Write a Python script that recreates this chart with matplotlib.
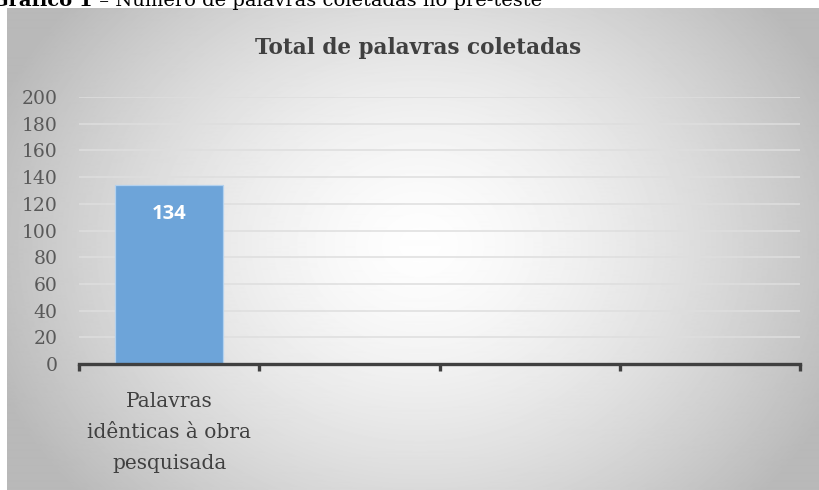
import numpy as np
import matplotlib
matplotlib.use("Agg")
import matplotlib.pyplot as plt
from matplotlib.ticker import FixedLocator

# ---- data ----
categories = ["Palavras\nidênticas à obra\npesquisada", "", "", ""]
values = [134, None, None, None]
yticks = [0, 20, 40, 60, 80, 100, 120, 140, 160, 180, 200]
title = "Total de palavras coletadas"
caption_bold = "Gráfico 1"
caption_rest = " – Número de palavras coletadas no pré-teste"

W, H = 819, 490
fig = plt.figure(figsize=(W / 100, H / 100), dpi=100)
fig.patch.set_facecolor("white")

# background chart area with radial gradient
bx0, by0, bx1, by1 = 7, 8, 819, 490  # pixel box (top-left origin)
bg = fig.add_axes([bx0 / W, 1 - by1 / H, (bx1 - bx0) / W, (by1 - by0) / H])
bg.set_axis_off()
nx, ny = bx1 - bx0, by1 - by0
xx, yy = np.meshgrid(np.arange(nx), np.arange(ny))
cx, cy = 420 - bx0, 245 - by0
r = np.sqrt(((xx - cx) / 430.0) ** 2 + ((yy - cy) / 360.0) ** 2)
r = np.clip(r, 0, 1.05)
v = 0.995 - 0.25 * r ** 1.5
bg.imshow(v, cmap="gray", vmin=0, vmax=1, aspect="auto",
          extent=[0, nx, ny, 0], interpolation="bilinear")
bg.set_xlim(0, nx)
bg.set_ylim(ny, 0)

# main axes
ax = fig.add_axes([79 / W, 126 / H, (800 - 79) / W, (393 - 126) / H])
ax.patch.set_alpha(0)
xs = np.arange(len(categories))
bar_x = [x for x, v in zip(xs, values) if v is not None]
bar_v = [v for v in values if v is not None]
bars = ax.bar(bar_x, bar_v, width=0.6, color="#6DA4D9",
              edgecolor="#b3d1ee", linewidth=0.9, zorder=3)
for x, v in zip(bar_x, bar_v):
    ax.text(x, v - 22, str(v), ha="center", va="center", color="white",
            fontsize=14.5, fontweight="bold", family="Open Sans", zorder=4)

ax.set_xlim(-0.5, len(categories) - 0.5)
ax.set_ylim(0, 200)
ax.set_yticks(yticks)
ax.yaxis.grid(True, color="#dedede", linewidth=1.1, zorder=0)
ax.set_axisbelow(True)
for s in ["left", "right", "top"]:
    ax.spines[s].set_visible(False)
ax.spines["bottom"].set_color("#404040")
ax.spines["bottom"].set_linewidth(2.4)
ax.spines["bottom"].set_zorder(5)

ax.set_xticks(xs)
ax.set_xticklabels(categories, fontsize=14.5, family="DejaVu Serif",
                   color="#404040", linespacing=1.8)
ax.xaxis.set_minor_locator(FixedLocator(np.arange(-0.5, len(categories), 1.0)))
ax.tick_params(axis="x", which="major", length=0, pad=20)
ax.tick_params(axis="x", which="minor", length=5, width=2.4, color="#404040",
               direction="out")
ax.tick_params(axis="y", length=0, pad=15.5, labelsize=13.5, labelcolor="#595959")
for lab in ax.get_yticklabels():
    lab.set_family("DejaVu Serif")

# chart title
fig.text(418 / W, 1 - 48 / H, title, ha="center", va="center",
         fontsize=15.5, fontweight="bold", family="DejaVu Serif", color="#404040")

# caption (cut off at top edge, as in the source)
fig.text(-8 / W, 1 - 6 / H, caption_bold, ha="left", va="baseline",
         fontsize=14, fontweight="bold", family="DejaVu Serif", color="black")
fig.text(93 / W, 1 - 6 / H, caption_rest, ha="left", va="baseline",
         fontsize=14, family="DejaVu Serif", color="black")

fig.savefig("out.png", dpi=100)
